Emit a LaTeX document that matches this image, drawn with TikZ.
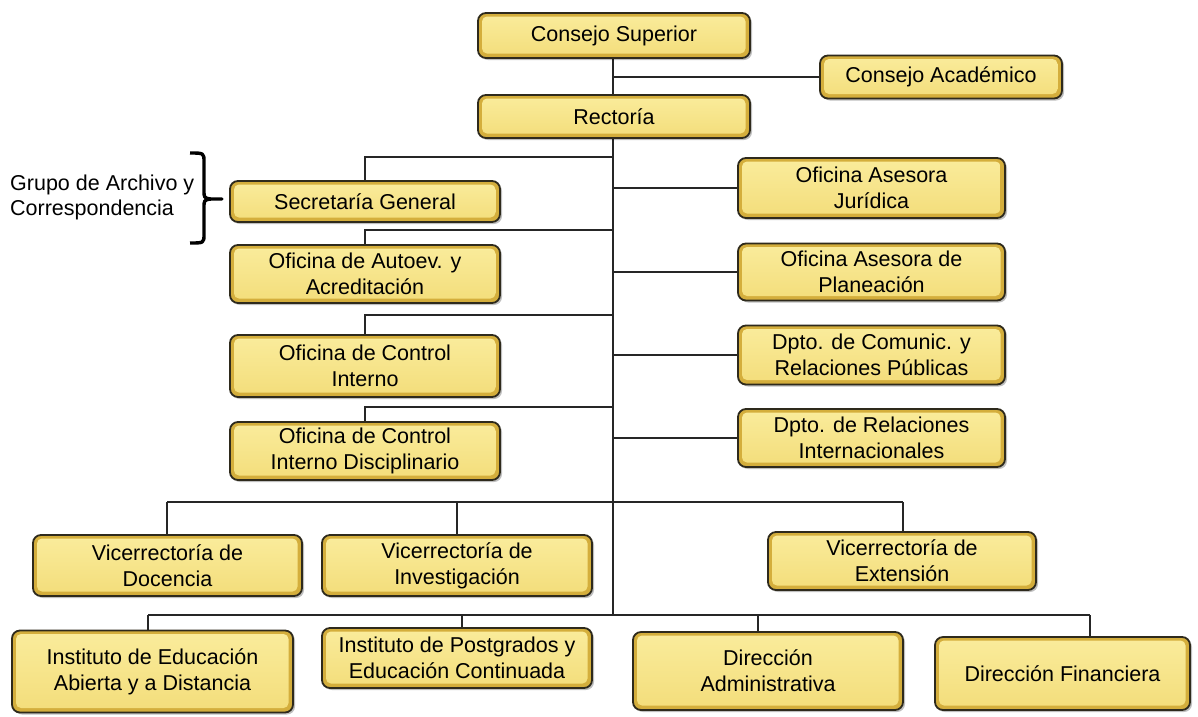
\documentclass[tikz,border=0pt]{standalone}
\usepackage{fontspec}
\setmainfont{Liberation Sans}
\usetikzlibrary{shadows}
\definecolor{boxedge}{HTML}{2E2A1C}
\definecolor{boxouter}{HTML}{D4AE3C}
\definecolor{boxinnertop}{HTML}{FAEC9C}
\definecolor{boxinnerbot}{HTML}{F3DD7A}
\definecolor{linec}{HTML}{262626}
\tikzset{
  orgbox/.style 2 args={
    draw=boxedge, line width=1.8pt, fill=boxouter, rounded corners=8pt,
    minimum width=#1pt, minimum height=#2pt, inner sep=0pt, align=center,
    font=\fontsize{21.5}{26}\selectfont,
    drop shadow={shadow xshift=2pt, shadow yshift=-2pt, opacity=0.25, fill=black},
    path picture={\shade[top color=boxinnertop, bottom color=boxinnerbot, rounded corners=5pt]
      ([shift={(4pt,4.5pt)}]path picture bounding box.south west) rectangle
      ([shift={(-4.5pt,-3.5pt)}]path picture bounding box.north east);}
  },
  conn/.style={draw=linec, line width=1.5pt},
  lbl/.style={align=left, inner sep=0pt, font=\fontsize{21.5}{25}\selectfont}
}
\begin{document}
\begin{tikzpicture}[x=1pt, y=-1pt]
\useasboundingbox (0,0) rectangle (1198,716);
\fill[white] (0,0) rectangle (1198,716);

% junction coordinates
\coordinate (t0) at (613,35);
\coordinate (tca) at (613,77);
\coordinate (tsg) at (613,157);
\coordinate (csg) at (365,157);
\coordinate (toaj) at (613,188);
\coordinate (toaa) at (613,230);
\coordinate (coaa) at (365,230);
\coordinate (toap) at (613,272);
\coordinate (toci) at (613,315);
\coordinate (coci) at (365,315);
\coordinate (tdcr) at (613,355);
\coordinate (tocid) at (613,407);
\coordinate (cocid) at (365,407);
\coordinate (tdri) at (613,438);
\coordinate (vl) at (167,502);
\coordinate (vm) at (457,502);
\coordinate (vr) at (903,502);
\coordinate (tb) at (613,615);
\coordinate (b1) at (148,615);
\coordinate (b2) at (462,615);
\coordinate (b3) at (758,615);
\coordinate (b4) at (1090,615);

\path[conn] (t0) -- (tb);
\path[conn] (tsg) -- (csg) -- (csg |- 0,181);
\path[conn] (toaa) -- (coaa) -- (coaa |- 0,245);
\path[conn] (toci) -- (coci) -- (coci |- 0,335);
\path[conn] (tocid) -- (cocid) -- (cocid |- 0,422);
\path[conn] (vl) -- (vr);
\path[conn] (vl) -- (vl |- 0,535);
\path[conn] (vm) -- (vm |- 0,535);
\path[conn] (vr) -- (vr |- 0,532);
\path[conn] (b1) -- (b4);
\path[conn] (b1) -- (b1 |- 0,630);
\path[conn] (b2) -- (b2 |- 0,628);
\path[conn] (b3) -- (b3 |- 0,632);
\path[conn] (b4) -- (b4 |- 0,637);

% boxes
\node[orgbox={272}{45}] (cs) at (614,35.5) {Consejo Superior};
\node[orgbox={242}{43}] (ca) at (941,77) {Consejo Académico};
\node[orgbox={272}{43}] (rec) at (614,116.5) {Rectoría};
\node[orgbox={270}{41}] (sg) at (365,201.5) {Secretaría General};
\node[orgbox={267}{60}] (oaj) at (871.5,188) {Oficina Asesora\\Jurídica};
\node[orgbox={270}{58}] (oaa) at (365,274) {Oficina de Autoev. y\\Acreditación};
\node[orgbox={267}{57}] (oap) at (871.5,272) {Oficina Asesora de\\Planeación};
\node[orgbox={270}{62}] (oci) at (365,366) {Oficina de Control\\Interno};
\node[orgbox={267}{59}] (dcr) at (871.5,355) {Dpto. de Comunic. y\\Relaciones Públicas};
\node[orgbox={270}{58}] (ocid) at (365,451) {Oficina de Control\\Interno Disciplinario};
\node[orgbox={267}{58}] (dri) at (871.5,438) {Dpto. de Relaciones\\Internacionales};
\node[orgbox={269}{61}] (vd) at (167.5,565.5) {Vicerrectoría de\\Docencia};
\node[orgbox={270}{61}] (vi) at (457,565.5) {Vicerrectoría de\\Investigación};
\node[orgbox={268}{58}] (ve) at (902,561) {Vicerrectoría de\\Extensión};
\node[orgbox={281}{82}] (ied) at (152.5,671.5) {Instituto de Educación\\Abierta y a Distancia};
\node[orgbox={270}{60}] (ipg) at (457,658) {Instituto de Postgrados y\\Educación Continuada};
\node[orgbox={270}{78}] (da) at (768,671) {Dirección\\Administrativa};
\node[orgbox={255}{73}] (df) at (1062.5,673.5) {Dirección Financiera};

% side connectors
\draw[conn] (tca) -- (tca -| ca.west);
\draw[conn] (toaj) -- (toaj -| oaj.west);
\draw[conn] (toap) -- (toap -| oap.west);
\draw[conn] (tdcr) -- (tdcr -| dcr.west);
\draw[conn] (tdri) -- (tdri -| dri.west);

% brace and its label
\draw[line width=3.4pt, draw=black, line join=round] (190,153) .. controls (204,153) .. (204,162) -- (204,190)
  .. controls (204,198) .. (211,199) -- (222,199) -- (211,199) .. controls (204,200) .. (204,208) -- (204,234)
  .. controls (204,243) .. (190,243);
\node[lbl, anchor=west] (grp) at (10,197) {Grupo de Archivo y\\Correspondencia};
\end{tikzpicture}
\end{document}
